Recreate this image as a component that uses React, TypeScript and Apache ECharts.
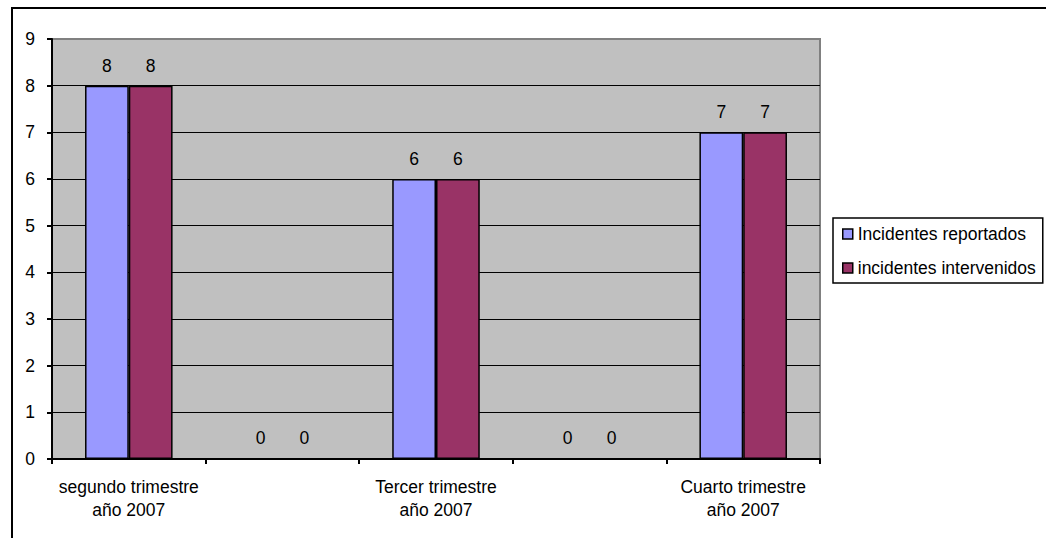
import React, { useEffect, useRef } from "react";
import * as echarts from "echarts";

const categories = [
  "segundo trimestre\naño 2007",
  "",
  "Tercer trimestre\naño 2007",
  "",
  "Cuarto trimestre\naño 2007",
];
const reportados = [8, 0, 6, 0, 7];
const intervenidos = [8, 0, 6, 0, 7];
const seriesNames = ["Incidentes reportados", "incidentes intervenidos"];
const yTicks = { min: 0, max: 9, interval: 1 };

const FONT = "'Liberation Sans', Arial, sans-serif";
const FS = 17.5;

export default function App() {
  const ref = useRef<HTMLDivElement>(null);
  useEffect(() => {
    if (!ref.current) return;
    const chart = echarts.init(ref.current, null, { renderer: "svg" });
    const label = {
      show: true,
      position: "top" as const,
      distance: 11,
      color: "#000",
      fontSize: FS,
      fontFamily: FONT,
    };
    chart.setOption({
      animation: false,
      backgroundColor: "#fff",
      textStyle: { fontFamily: FONT },
      graphic: [
        {
          type: "rect",
          shape: { x: 12, y: 8, width: 1200, height: 700 },
          style: { fill: "none", stroke: "#000", lineWidth: 2 },
          silent: true,
          z: 100,
        },
      ],
      grid: {
        left: 52,
        right: 226,
        top: 39,
        bottom: 79,
        show: true,
        backgroundColor: "#C0C0C0",
        borderColor: "#808080",
        borderWidth: 2,
      },
      legend: {
        orient: "vertical",
        left: 833,
        top: 218,
        padding: [7, 7, 6, 9],
        itemGap: 16,
        itemWidth: 10,
        itemHeight: 10,
        icon: "rect",
        backgroundColor: "#fff",
        borderColor: "#000",
        borderWidth: 1.5,
        borderRadius: 0,
        itemStyle: { borderColor: "#000", borderWidth: 1.5 },
        textStyle: { fontSize: FS, fontFamily: FONT, color: "#000", lineHeight: 16 },
        data: seriesNames,
      },
      xAxis: {
        type: "category",
        data: categories,
        axisLine: { lineStyle: { color: "#000", width: 2 } },
        axisTick: { show: true, length: 5, lineStyle: { color: "#000", width: 2 } },
        axisLabel: {
          interval: 0,
          margin: 16,
          fontSize: FS,
          fontFamily: FONT,
          color: "#000",
          lineHeight: 23,
          align: "center",
        },
      },
      yAxis: {
        type: "value",
        min: yTicks.min,
        max: yTicks.max,
        interval: yTicks.interval,
        axisLine: { show: true, lineStyle: { color: "#000", width: 2 } },
        axisTick: { show: true, length: 5, lineStyle: { color: "#000", width: 2 } },
        axisLabel: { margin: 17, fontSize: FS, fontFamily: FONT, color: "#000" },
        splitLine: {
          show: true,
          showMaxLine: false,
          lineStyle: { color: "#000", width: 1.2 },
        },
      },
      series: [
        {
          name: seriesNames[0],
          type: "bar",
          data: reportados,
          barGap: "0%",
          barCategoryGap: "43%",
          itemStyle: { color: "#9999FF", borderColor: "#000", borderWidth: 1.5 },
          label,
        },
        {
          name: seriesNames[1],
          type: "bar",
          data: intervenidos,
          barGap: "0%",
          barCategoryGap: "43%",
          itemStyle: { color: "#993366", borderColor: "#000", borderWidth: 1.5 },
          label,
        },
      ],
    });
    return () => chart.dispose();
  }, []);
  return (
    <div
      ref={ref}
      style={{ position: "absolute", left: 0, top: 0, width: 1046, height: 538 }}
    />
  );
}
